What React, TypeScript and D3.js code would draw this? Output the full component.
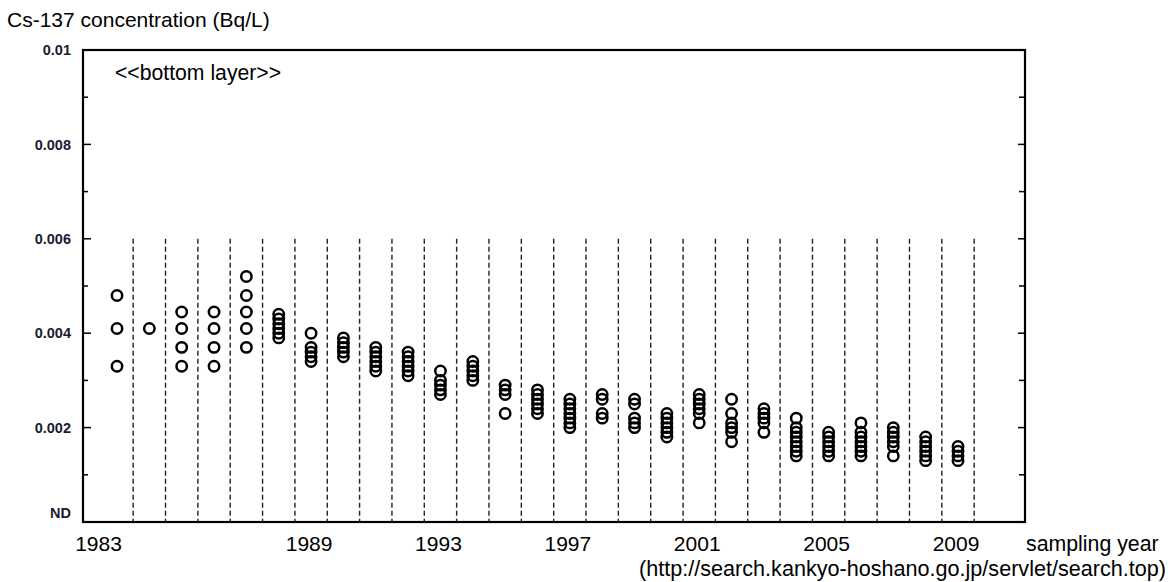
import { useEffect, useRef } from "react";
import * as d3 from "d3";

const years = [
  1983, 1984, 1985, 1986, 1987, 1988, 1989, 1990, 1991, 1992, 1993, 1994, 1995, 1996,
  1997, 1998, 1999, 2000, 2001, 2002, 2003, 2004, 2005, 2006, 2007, 2008, 2009,
];

// measured values per sampling year (Bq/L)
const concentrations: number[][] = [
  [0.0048, 0.0041, 0.0033],
  [0.0041],
  [0.00445, 0.0041, 0.0037, 0.0033],
  [0.00445, 0.0041, 0.0037, 0.0033],
  [0.0052, 0.0048, 0.00445, 0.0041, 0.0037],
  [0.0044, 0.0043, 0.0042, 0.0041, 0.004, 0.0039],
  [0.004, 0.0037, 0.0036, 0.0035, 0.0034],
  [0.0039, 0.0038, 0.0037, 0.0036, 0.0035],
  [0.0037, 0.0036, 0.0035, 0.0034, 0.0033, 0.0032],
  [0.0036, 0.0035, 0.0034, 0.0033, 0.0032, 0.0031],
  [0.0032, 0.003, 0.0029, 0.0028, 0.0027],
  [0.0034, 0.0033, 0.0032, 0.0031, 0.003],
  [0.0029, 0.0028, 0.0027, 0.0023],
  [0.0028, 0.0027, 0.0026, 0.0025, 0.0024, 0.0023],
  [0.0026, 0.0025, 0.0024, 0.0023, 0.0022, 0.0021, 0.002],
  [0.0027, 0.0026, 0.0023, 0.0022],
  [0.0026, 0.0025, 0.0022, 0.0021, 0.002],
  [0.0023, 0.0022, 0.0021, 0.002, 0.0019, 0.0018],
  [0.0027, 0.0026, 0.0025, 0.0024, 0.0023, 0.0021],
  [0.0026, 0.0023, 0.0021, 0.002, 0.0019, 0.0017],
  [0.0024, 0.0023, 0.0022, 0.0021, 0.0019],
  [0.0022, 0.002, 0.0019, 0.0018, 0.0017, 0.0016, 0.0015, 0.0014],
  [0.0019, 0.0018, 0.0017, 0.0016, 0.0015, 0.0014],
  [0.0021, 0.0019, 0.0018, 0.0017, 0.0016, 0.0015, 0.0014],
  [0.002, 0.0019, 0.0018, 0.0017, 0.0016, 0.0014],
  [0.0018, 0.0017, 0.0016, 0.0015, 0.0014, 0.0013],
  [0.0016, 0.0015, 0.0014, 0.0013],
];

const yearLabels = [1983, 1989, 1993, 1997, 2001, 2005, 2009];
const yTicks = [0, 0.002, 0.004, 0.006, 0.008, 0.01];
const yTickLabels = ["ND", "0.002", "0.004", "0.006", "0.008", "0.01"];
const yMinorTicks = [0.001, 0.003, 0.005, 0.007, 0.009];

export default function App() {
  const svgRef = useRef<SVGSVGElement>(null);

  useEffect(() => {
    const svg = d3.select(svgRef.current);
    svg.selectAll("*").remove();

    const left = 83;
    const right = 1025;
    const top = 50;
    const bottom = 522;
    const font = "Liberation Sans, Arial, sans-serif";

    const x = d3.scaleLinear().domain([1983, 2009]).range([117, 958]);
    const y = d3.scaleLinear().domain([0, 0.01]).range([bottom, top]);

    // dashed separators between years
    svg
      .append("g")
      .selectAll("line")
      .data(years)
      .enter()
      .append("line")
      .attr("x1", (d) => x(d + 0.5))
      .attr("x2", (d) => x(d + 0.5))
      .attr("y1", y(0.006))
      .attr("y2", y(0))
      .attr("stroke", "#222")
      .attr("stroke-width", 1.4)
      .attr("stroke-dasharray", "5,3");

    // ticks (inside the frame)
    const ticks = svg.append("g").attr("stroke", "#000").attr("stroke-width", 1.5);
    yTicks.forEach((t) => {
      ticks.append("line").attr("x1", left).attr("x2", left + 8).attr("y1", y(t)).attr("y2", y(t));
      ticks.append("line").attr("x1", right - 7).attr("x2", right).attr("y1", y(t)).attr("y2", y(t));
    });
    yMinorTicks.forEach((t) => {
      ticks.append("line").attr("x1", left).attr("x2", left + 5).attr("y1", y(t)).attr("y2", y(t));
      ticks.append("line").attr("x1", right - 6).attr("x2", right).attr("y1", y(t)).attr("y2", y(t));
    });

    // frame
    svg
      .append("rect")
      .attr("x", left)
      .attr("y", top)
      .attr("width", right - left)
      .attr("height", bottom - top)
      .attr("fill", "none")
      .attr("stroke", "#000")
      .attr("stroke-width", 2.2);

    // points
    const pts = years.flatMap((yr, i) => concentrations[i].map((v) => ({ yr, v })));
    svg
      .append("g")
      .selectAll("circle")
      .data(pts)
      .enter()
      .append("circle")
      .attr("cx", (d) => x(d.yr))
      .attr("cy", (d) => y(d.v))
      .attr("r", 5.2)
      .attr("fill", "none")
      .attr("stroke", "#000")
      .attr("stroke-width", 2.5);

    // y labels
    svg
      .append("g")
      .selectAll("text")
      .data(yTicks)
      .enter()
      .append("text")
      .attr("x", 71)
      .attr("y", (d) => y(d) + (d === 0 ? -9 : 0))
      .attr("dy", "0.36em")
      .attr("text-anchor", "end")
      .attr("font-family", font)
      .attr("font-size", 14.5)
      .attr("font-weight", "bold")
      .attr("fill", "#1a1a30")
      .text((d, i) => yTickLabels[i]);

    // x labels
    svg
      .append("g")
      .selectAll("text")
      .data(yearLabels)
      .enter()
      .append("text")
      .attr("x", (d, i) => x(d) + (i === 0 ? -18.5 : -2))
      .attr("y", 551)
      .attr("text-anchor", "middle")
      .attr("font-family", font)
      .attr("font-size", 21)
      .attr("fill", "#000")
      .text((d) => String(d));

    svg
      .append("text")
      .attr("x", 1026)
      .attr("y", 551)
      .attr("font-family", font)
      .attr("font-size", 21.3)
      .text("sampling year");

    svg
      .append("text")
      .attr("x", 1166)
      .attr("y", 576)
      .attr("text-anchor", "end")
      .attr("font-family", font)
      .attr("font-size", 21.6)
      .text("(http://search.kankyo-hoshano.go.jp/servlet/search.top)");

    svg
      .append("text")
      .attr("x", 7)
      .attr("y", 27)
      .attr("font-family", font)
      .attr("font-size", 21)
      .text("Cs-137 concentration (Bq/L)");

    svg
      .append("text")
      .attr("x", 115)
      .attr("y", 80)
      .attr("font-family", font)
      .attr("font-size", 21.2)
      .text("<<bottom layer>>");
  }, []);

  return (
    <svg
      ref={svgRef}
      width={1173}
      height={582}
      style={{ position: "absolute", left: 0, top: 0, background: "#fff" }}
    />
  );
}
